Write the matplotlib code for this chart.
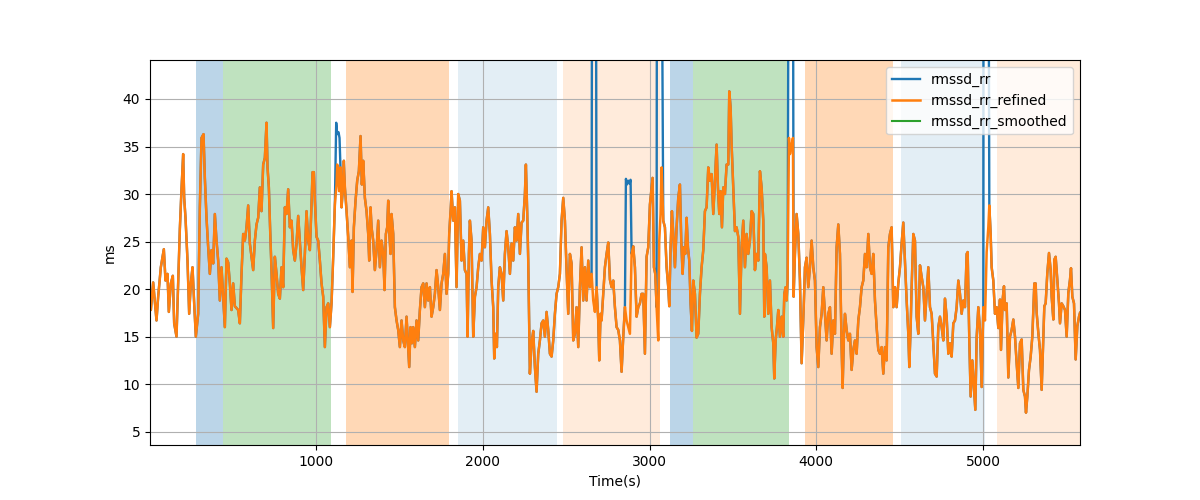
import matplotlib
matplotlib.use("Agg")
import matplotlib.pyplot as plt
import numpy as np

# time axis (s) and the refined RMSSD (ms)
time_s = [
    3, 8, 22, 42, 52, 68, 86, 96, 108, 116, 128, 140, 148, 162, 172, 182, 192, 202, 208, 216,
    228, 238, 248, 258, 268, 278, 292, 302, 312, 324, 332, 342, 352, 362, 372, 382, 392, 402, 412, 422,
    432, 442, 452, 462, 472, 482, 492, 502, 512, 532, 542, 552, 562, 572, 582, 592, 602, 612, 622, 632,
    642, 652, 662, 672, 682, 692, 702, 708, 716, 724, 732, 742, 752, 762, 772, 782, 792, 802, 812, 822,
    832, 842, 852, 862, 872, 882, 892,
    902, 912, 922, 932, 942, 952, 962, 972, 978, 986, 992, 1002, 1012, 1022, 1032, 1042, 1052, 1062, 1072, 1082,
    1092, 1102, 1112, 1122, 1126, 1132, 1138, 1146, 1152, 1158, 1166, 1172, 1182, 1192, 1202, 1212, 1218, 1226, 1236, 1246,
    1256, 1266, 1274, 1282, 1292, 1302, 1312, 1318, 1326, 1332, 1342, 1352, 1362, 1372, 1382, 1392, 1402, 1410, 1418, 1426,
    1432, 1438, 1446, 1452, 1462, 1472, 1482, 1492, 1502, 1512, 1522, 1532, 1542, 1552, 1558, 1566, 1574, 1582, 1592, 1602,
    1612, 1622, 1632, 1642, 1652, 1662, 1672, 1682, 1692, 1702, 1712, 1722, 1732, 1742, 1752, 1762, 1772, 1782, 1792, 1798,
    1806, 1812, 1822,
    1832, 1842, 1852, 1862, 1872, 1882, 1892, 1902, 1908, 1916, 1922, 1932, 1942, 1952, 1962, 1972, 1982, 1992, 2002, 2012,
    2022, 2032, 2042, 2052, 2062, 2068, 2076, 2084, 2092, 2102, 2112, 2122, 2132, 2142, 2152, 2162, 2172, 2182, 2192, 2202,
    2212, 2222, 2232, 2242, 2252, 2258, 2266, 2272, 2282, 2292, 2302, 2312, 2322, 2332, 2342, 2352, 2362, 2372, 2382, 2392,
    2402, 2412, 2422, 2432, 2442, 2452, 2462, 2472, 2482, 2492, 2502, 2512, 2522, 2532, 2542, 2552, 2562, 2572, 2582, 2592,
    2602, 2612, 2622, 2632, 2642, 2652, 2662, 2672, 2682, 2692, 2698, 2706, 2712, 2722, 2732, 2742, 2752,
    2762, 2772, 2782, 2792, 2802, 2812, 2822, 2832, 2842, 2852, 2862, 2872, 2882, 2892, 2902, 2912, 2922, 2932, 2942, 2952,
    2962, 2972, 2982, 2992, 3002, 3012, 3018, 3026, 3034, 3042, 3052, 3058, 3066, 3072, 3082, 3092, 3102, 3112, 3118, 3126,
    3134, 3142, 3152, 3162, 3172, 3182, 3190, 3198, 3206, 3214, 3222, 3230, 3238, 3246, 3254, 3262, 3272, 3282, 3292, 3302,
    3312, 3322, 3332, 3342, 3352, 3362, 3372, 3382, 3392, 3402, 3410, 3418, 3426, 3434, 3442, 3452, 3462, 3472, 3478, 3486,
    3492, 3502, 3512, 3522, 3532, 3542, 3552, 3562, 3572, 3582, 3592, 3602, 3612, 3622, 3632, 3642, 3652, 3662, 3672, 3682,
    3688,
    3692, 3702, 3712, 3722, 3732, 3742, 3748, 3756, 3764, 3772, 3782, 3792, 3802, 3808, 3816, 3822, 3828, 3836, 3842, 3852,
    3860, 3864, 3872, 3882, 3892, 3902, 3912, 3922, 3932, 3942, 3952, 3962, 3972, 3982, 3992, 4002, 4012, 4022, 4032, 4042,
    4052, 4062, 4072, 4082, 4092, 4102, 4112, 4122, 4132, 4142, 4152, 4158, 4166, 4172, 4182, 4192, 4202, 4212, 4222, 4232,
    4242, 4252, 4262, 4272, 4282, 4292, 4302, 4312, 4322, 4332, 4342, 4352, 4362, 4372, 4382, 4392, 4402, 4412, 4422, 4432,
    4442, 4452, 4462, 4472, 4482, 4492, 4502, 4512, 4522, 4532, 4542, 4552, 4558, 4566, 4572, 4582, 4592, 4602, 4612,
    4622, 4632, 4642, 4652, 4662, 4672, 4682, 4692, 4702, 4712, 4722, 4732, 4742, 4752, 4762, 4772, 4782, 4792, 4802, 4812,
    4822, 4832, 4842, 4852, 4862, 4872, 4882, 4892, 4902, 4908, 4918, 4926, 4936, 4946, 4954, 4962, 4972, 4982, 4992, 5002,
    5012, 5022, 5032, 5038, 5046, 5052, 5062, 5072, 5082, 5092,
    5102, 5108, 5118, 5126, 5132, 5142, 5152, 5162, 5172, 5182, 5192, 5202, 5212, 5222, 5232, 5242, 5252, 5258, 5266, 5276,
    5286, 5296, 5302, 5308, 5316, 5322, 5332, 5342, 5352, 5362, 5368, 5376, 5386, 5396, 5406, 5412, 5422, 5428, 5436, 5446,
    5456, 5462, 5472, 5482, 5492, 5502, 5512, 5522, 5528, 5536, 5546, 5556, 5566, 5576, 5582,
]

rmssd_rr_refined = [
    19.5, 17.8, 20.7, 16.7, 19.2, 22.3, 24.2, 20.9, 21.6, 17.6, 20.6, 21.4, 16.4, 15.0, 20.6, 26.3, 30.5, 34.2, 29.6, 27.5,
    23.0, 17.4, 20.6, 22.3, 18.5, 15.0, 17.4, 28.6, 35.9, 36.3, 31.7, 27.5, 24.4, 21.6, 24.1, 22.7, 27.9, 25.1, 23.0, 18.8,
    22.3, 19.2, 16.0, 23.2, 22.8, 20.6, 17.8, 20.6, 18.2, 17.8, 16.4, 21.6, 25.8, 25.1, 26.5, 28.8, 24.8, 23.4, 22.0, 25.1,
    26.8, 27.5, 30.7, 28.2, 33.1, 33.8, 37.5, 32.8, 30.7, 26.1, 22.0, 15.9, 23.4, 21.6, 19.5, 19.0, 22.3, 20.2, 28.6, 27.9,
    30.5, 26.5, 27.2, 24.1, 23.0, 24.8, 27.7,
    25.0, 22.3, 19.9, 23.7, 28.2, 25.1, 24.1, 28.9, 32.3, 32.3, 29.3, 25.5, 25.1, 23.0, 20.6, 19.2, 13.9, 18.1, 18.5, 16.0,
    18.5, 23.4, 28.9, 31.0, 33.1, 32.1, 30.3, 32.8, 28.6, 30.0, 33.5, 30.7, 28.2, 25.5, 22.3, 25.1, 19.7, 26.5, 29.3, 31.4,
    32.4, 36.1, 31.0, 33.5, 29.6, 28.2, 25.8, 23.0, 28.6, 26.5, 25.1, 22.0, 24.1, 27.2, 22.3, 25.1, 23.7, 19.9, 25.8, 26.5,
    29.3, 26.1, 23.7, 27.9, 25.8, 18.1, 16.7, 15.7, 13.9, 16.7, 14.6, 13.9, 17.1, 13.9, 11.8, 16.0, 14.3, 16.0, 13.9, 16.7,
    14.6, 17.8, 20.2, 20.6, 18.1, 20.6, 18.8, 20.2, 17.1, 18.1, 19.5, 22.0, 20.2, 17.8, 20.6, 21.6, 23.7, 19.5, 21.6, 25.8,
    28.2, 30.3, 27.2,
    28.6, 20.2, 30.0, 29.3, 23.0, 25.1, 22.0, 21.6, 15.0, 23.7, 27.2, 25.1, 15.0, 19.2, 20.2, 22.3, 23.7, 23.0, 26.5, 24.4,
    27.2, 28.6, 25.8, 20.9, 18.1, 12.7, 15.3, 13.9, 20.2, 22.3, 21.6, 18.8, 23.7, 26.1, 24.4, 21.6, 24.8, 23.0, 26.5, 25.1,
    27.9, 23.7, 27.0, 27.2, 30.0, 33.1, 27.9, 23.0, 11.1, 14.3, 15.6, 11.8, 9.2, 13.2, 14.6, 16.4, 16.7, 15.0, 17.6, 15.7,
    13.2, 12.9, 14.6, 17.4, 19.5, 20.2, 21.6, 27.2, 29.6, 27.2, 22.0, 17.4, 23.7, 22.7, 14.6, 15.3, 18.1, 13.9, 20.2, 24.4,
    18.8, 22.3, 18.8, 23.0, 20.2, 21.6, 18.8, 17.6, 20.2, 16.7, 12.5, 17.4, 16.7, 19.5, 22.3, 23.7, 24.9,
    21.0, 20.2, 20.9, 18.1, 16.0, 15.7, 14.6, 11.3, 15.0, 18.1, 16.7, 16.0, 15.3, 23.7, 24.5, 22.3, 17.1, 18.1, 18.5, 19.5,
    19.5, 13.2, 23.4, 24.4, 28.9, 30.7, 31.7, 22.3, 21.6, 18.1, 14.6, 25.1, 27.9, 32.8, 27.2, 26.5, 22.3, 20.2, 18.2, 24.4,
    28.2, 25.8, 22.3, 26.5, 29.6, 31.0, 25.1, 21.6, 24.4, 23.7, 27.5, 24.4, 23.0, 18.5, 15.6, 20.9, 19.5, 14.9, 15.3, 19.5,
    22.3, 24.1, 28.2, 28.6, 32.8, 31.4, 32.1, 27.9, 31.4, 35.2, 30.7, 27.9, 30.3, 26.5, 30.7, 30.0, 33.1, 33.1, 40.8, 39.1,
    35.2, 30.7, 26.1, 26.5, 25.5, 17.4, 24.4, 27.2, 22.3, 25.8, 23.7, 25.1, 28.2, 27.9, 22.0, 23.7, 23.0, 32.4, 30.7, 27.2,
    17.1,
    23.7, 22.3, 17.4, 20.9, 16.0, 14.3, 10.6, 14.6, 16.0, 17.8, 15.0, 17.1, 15.0, 19.5, 20.2, 18.8, 20.9, 35.9, 34.2, 35.2,
    35.9, 19.2, 23.7, 27.9, 25.8, 20.9, 12.2, 16.7, 22.3, 23.3, 20.2, 22.3, 25.1, 22.3, 20.9, 13.9, 11.8, 16.0, 17.4, 20.2,
    17.4, 14.6, 17.4, 18.1, 13.2, 16.7, 15.3, 24.4, 26.8, 23.7, 13.9, 9.6, 15.3, 17.4, 15.7, 14.6, 15.3, 11.5, 13.6, 14.6,
    13.2, 16.7, 18.1, 20.2, 20.9, 23.7, 22.3, 25.8, 22.3, 21.6, 23.7, 18.8, 16.0, 13.6, 13.2, 13.9, 11.1, 13.9, 12.5, 24.4,
    25.8, 26.5, 18.1, 20.2, 18.1, 20.6, 22.3, 24.8, 27.0, 23.0, 18.8, 15.3, 11.8, 16.0, 20.2, 25.8, 25.1, 17.1, 15.3,
    22.5, 21.3, 20.2, 16.7, 19.5, 22.3, 18.1, 17.4, 14.3, 11.1, 10.8, 16.0, 17.1, 16.0, 14.6, 19.0, 17.1, 13.2, 14.3, 12.9,
    16.4, 16.7, 18.1, 20.9, 19.5, 17.4, 18.8, 18.1, 23.7, 23.9, 14.6, 8.7, 12.5, 9.7, 7.3, 14.9, 18.1, 15.7, 9.7, 18.1,
    16.7, 23.9, 26.5, 28.8, 25.8, 22.3, 20.9, 17.4, 18.1, 15.9,
    18.9, 13.6, 18.9, 20.3, 17.8, 18.5, 10.7, 15.0, 15.7, 16.8, 15.0, 12.2, 9.6, 14.3, 14.7, 9.4, 8.7, 7.0, 8.7, 11.5,
    12.9, 15.0, 17.8, 20.6, 20.6, 17.5, 15.4, 13.6, 9.4, 15.0, 18.2, 18.5, 21.7, 23.8, 22.0, 19.2, 16.8, 23.1, 23.4, 21.0,
    18.5, 16.4, 18.5, 18.2, 17.8, 15.0, 19.6, 21.0, 22.2, 19.2, 18.5, 12.6, 16.1, 17.1, 17.5,
]

# raw rmssd_rr differs from the refined series only at these artifacts
artifact_times = [
    [1120, 1126, 1134, 1140, 1146],
    [2655, 2678],
    [2858, 2864, 2872, 2880, 2886],
    [3044, 3072],
    [3834, 3860],
    [5003, 5033],
]
artifact_values = [
    [37.5, 36.3, 36.5, 35.9, 32.6],
    [60.0, 60.0],
    [31.6, 31.0, 31.4, 31.1, 31.5],
    [60.0, 60.0],
    [60.0, 60.0],
    [60.0, 60.0],
]

rmssd_rr_smoothed = []

# phase intervals (s)
phase_start = [278, 442, 1178, 1850, 2478, 3122, 3258, 3932, 4508, 5083]
phase_end = [442, 1086, 1794, 2442, 3062, 3258, 3834, 4458, 5015, 5582]
phase_kind = ["a", "b", "c", "d", "e", "a", "b", "c", "d", "e"]

phase_style = {
    "a": ("tab:blue", 0.3),
    "b": ("tab:green", 0.3),
    "c": ("tab:orange", 0.3),
    "d": ("tab:blue", 0.12),
    "e": ("tab:orange", 0.15),
}


def build_raw(t, refined):
    t = np.asarray(t, dtype=float)
    refined = np.asarray(refined, dtype=float)
    keep = np.ones(len(t), dtype=bool)
    for ts in artifact_times:
        keep &= ~((t >= ts[0]) & (t <= ts[-1]))
    tt = np.concatenate([t[keep]] + [np.asarray(ts, float) for ts in artifact_times])
    vv = np.concatenate([refined[keep]] + [np.asarray(vs, float) for vs in artifact_values])
    order = np.argsort(tt, kind="stable")
    return tt[order], vv[order]


def main():
    fig, ax = plt.subplots(figsize=(12, 5), dpi=100)

    for s, e, k in zip(phase_start, phase_end, phase_kind):
        color, alpha = phase_style[k]
        ax.axvspan(s, e, color=color, alpha=alpha, lw=0)

    raw_t, raw_v = build_raw(time_s, rmssd_rr_refined)
    ax.plot(raw_t, raw_v, color="tab:blue", lw=1.7, label="rmssd_rr")
    ax.plot(time_s, rmssd_rr_refined, color="tab:orange", lw=1.8, label="rmssd_rr_refined")
    ax.plot(rmssd_rr_smoothed, rmssd_rr_smoothed, color="tab:green", label="rmssd_rr_smoothed")

    ax.set_xlim(time_s[0], time_s[-1])
    ax.set_ylim(3.6, 44.1)
    ax.grid(True)
    ax.set_xlabel("Time(s)")
    ax.set_ylabel("ms")
    ax.legend(loc="upper right")

    fig.savefig("out.png", dpi=100)


if __name__ == '__main__':
    main()
